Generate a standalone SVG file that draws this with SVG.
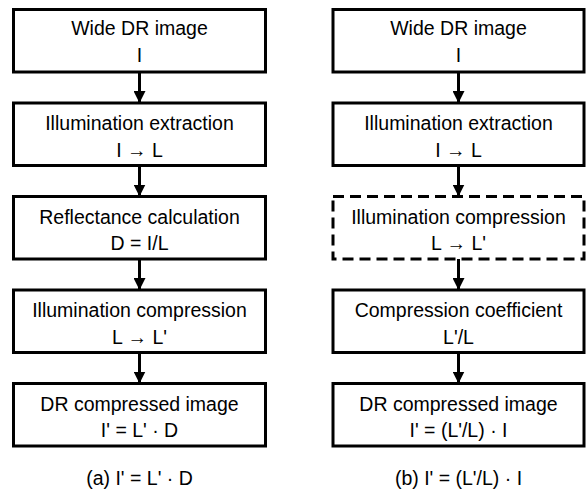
<svg xmlns="http://www.w3.org/2000/svg" width="588" height="491" viewBox="0 0 588 491">
<defs>
<style>
.box{fill:#fff;stroke:#000;stroke-width:3}
.dash{fill:#fff;stroke:#000;stroke-width:3;stroke-dasharray:11 6}
text{font-family:"Liberation Sans",Arial,sans-serif;font-size:19.5px;fill:#000;text-anchor:middle}
.conn line{stroke:#000;stroke-width:3}
</style>
<marker id="ah" markerWidth="12" markerHeight="12" viewBox="0 0 12 12" refX="12" refY="6" orient="auto" markerUnits="userSpaceOnUse">
<path d="M0,0 L12,6 L0,12 Z" fill="#000"/>
</marker>
</defs>
<rect width="588" height="491" fill="#fff"/>
<g class="conn" id="connectors">
<line x1="139.5" y1="72" x2="139.5" y2="103" marker-end="url(#ah)"/>
<line x1="139.5" y1="165.5" x2="139.5" y2="196.5" marker-end="url(#ah)"/>
<line x1="139.5" y1="259" x2="139.5" y2="290" marker-end="url(#ah)"/>
<line x1="139.5" y1="352.5" x2="139.5" y2="383.5" marker-end="url(#ah)"/>
<line x1="458.5" y1="72" x2="458.5" y2="103" marker-end="url(#ah)"/>
<line x1="458.5" y1="165.5" x2="458.5" y2="196.5" marker-end="url(#ah)"/>
<line x1="458.5" y1="259" x2="458.5" y2="290" marker-end="url(#ah)"/>
<line x1="458.5" y1="352.5" x2="458.5" y2="383.5" marker-end="url(#ah)"/>
</g>
<g id="a1"><rect class="box" x="13.5" y="9.5" width="252" height="62.5"/><text x="139.5" y="35">Wide DR image</text><text x="139.5" y="62">I</text></g>
<g id="a2"><rect class="box" x="13.5" y="103" width="252" height="62.5"/><text x="139.5" y="130">Illumination extraction</text><text x="139.5" y="156.5">I → L</text></g>
<g id="a3"><rect class="box" x="13.5" y="196.5" width="252" height="62.5"/><text x="139.5" y="223.5">Reflectance calculation</text><text x="139.5" y="250">D = I/L</text></g>
<g id="a4"><rect class="box" x="13.5" y="290" width="252" height="62.5"/><text x="139.5" y="317">Illumination compression</text><text x="139.5" y="343.5">L → L'</text></g>
<g id="a5"><rect class="box" x="13.5" y="383.5" width="252" height="62.5"/><text x="139.5" y="410.5">DR compressed image</text><text x="139.5" y="437">I' = L' · D</text></g>
<g id="b1"><rect class="box" x="333" y="9.5" width="251" height="62.5"/><text x="458.5" y="35">Wide DR image</text><text x="458.5" y="62">I</text></g>
<g id="b2"><rect class="box" x="333" y="103" width="251" height="62.5"/><text x="458.5" y="130">Illumination extraction</text><text x="458.5" y="156.5">I → L</text></g>
<g id="b3"><rect class="dash" x="333" y="196.5" width="251" height="62.5"/><text x="458.5" y="223.5">Illumination compression</text><text x="458.5" y="250">L → L'</text></g>
<g id="b4"><rect class="box" x="333" y="290" width="251" height="62.5"/><text x="458.5" y="317">Compression coefficient</text><text x="458.5" y="343.5">L'/L</text></g>
<g id="b5"><rect class="box" x="333" y="383.5" width="251" height="62.5"/><text x="458.5" y="410.5">DR compressed image</text><text x="458.5" y="437">I' = (L'/L) · I</text></g>
<text x="139.5" y="485">(a) I' = L' · D</text>
<text x="458.5" y="485">(b) I' = (L'/L) · I</text>
</svg>
